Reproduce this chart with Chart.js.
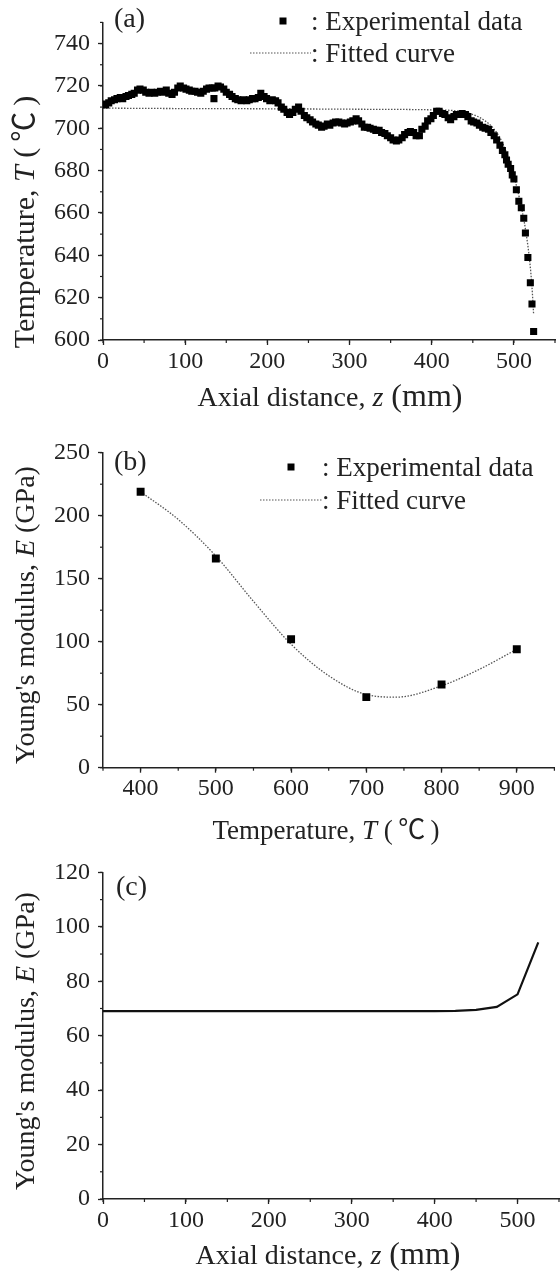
<!DOCTYPE html>
<html lang="en">
<head>
  <meta charset="UTF-8" />
  <title>Temperature and Young's modulus profiles</title>
  <script src="https://cdn.jsdelivr.net/npm/chart.js"></script>
  <style>
    body {
      margin: 0;
      background: #fff;
    }
    .panel {
      position: absolute;
      left: 0;
      width: 560px;
    }
    #pa { top: 0; height: 425px; }
    #pb { top: 425px; height: 425px; }
    #pc { top: 850px; height: 423px; }
  </style>
</head>
<body>

<div class="panel" id="pa"><canvas id="chartA"></canvas></div>
<div class="panel" id="pb"><canvas id="chartB"></canvas></div>
<div class="panel" id="pc"><canvas id="chartC"></canvas></div>

<script>
  // (a) axial temperature profile
  const zExpA = [0,3,7,10,14,17,21,24,28,31,35,38,42,45,49,52,56,59,63,66,70,73,77,80,84,87,91,94,98,101,
    105,108,112,115,119,122,126,129,133,135,136,140,143,147,150,154,157,161,164,168,171,175,178,182,185,189,192,196,199,
    203,206,210,213,217,220,224,227,231,234,238,241,245,248,252,255,259,262,266,269,273,276,280,283,287,290,294,297,
    301,304,308,311,315,318,322,325,329,332,336,339,343,346,350,353,357,360,364,367,371,374,378,381,385,388,392,395,399,
    402,406,409,413,416,420,423,427,430,434,437,441,444,448,451,455,458,462,465,469,472,476,479,483,486,489,491,493,496,498,
    500,503,506,509,512,514,517,520,522,524];
  const tExpA = [711.5,711,712,713,713.5,714,714.5,714,715,715.5,716,716.5,718,718.5,718,717,716.5,717,716.5,717,717.5,717,718,716.5,716,717,719,720,719,718.5,
    718,717.5,717.5,717,716.5,717.5,718.5,719,719,714,719,720,719.5,718.5,717,716,715,714,713.5,713,713.5,713,713.5,714,714,714.5,716.5,715,714,
    713,713.5,713,712,710,709,707.5,706.5,707.5,709,710,708,706,705,704,703,702,701.5,700.5,701,702,701.5,702.5,703,703,702.5,702,702.5,
    703,703.5,704.5,703.5,702,700.5,700.5,700,699.5,699,699,698,697.5,696.5,695.5,694.5,694,694.5,695.5,697,698,698.5,698,696.5,696.5,699.5,701,703.5,704.5,
    706,708,708,707,706.5,705,704,705.5,706.5,706.5,707,706.5,705.5,703.5,703,702.5,701.5,700.5,700,699.5,698,696.5,694.5,692,689.5,687.5,685,683,681,678,
    676,671,665.5,662.5,657.5,650.5,639,627,617,604];
  const zFitA = [0,100,200,300,400,430,450,465,475,485,495,503,510,515,519,522,524];
  const tFitA = [709.5,709.3,709.2,709,708.7,708.2,706.5,703.5,700,694,684,673,661,650,638,625,612];

  // (b) Young's modulus vs temperature
  const tempExpB = [400,500,600,700,800,900];
  const modExpB = [219,166,102,56,66,94];
  const tempFitB = [400,450,500,550,600,650,700,740,800,850,900];
  const modFitB = [219,197,168,132,98,73,58,56,65,78,94];

  // (c) Young's modulus along the axis
  const zC = [0,100,200,300,400,425,450,475,500,525];
  const modC = [69,69,69,69,69,69.1,69.5,70.6,75.2,94.3];

  // tick labels
  const ticksXA = [0,100,200,300,400,500];
  const ticksYA = [600,620,640,660,680,700,720,740];
  const ticksXB = [400,500,600,700,800,900];
  const ticksYB = [0,50,100,150,200,250];
  const ticksXC = [0,100,200,300,400,500];
  const ticksYC = [0,20,40,60,80,100,120];

  const INK = '#222';
  const SERIF = '"Liberation Serif", "Noto Sans CJK SC", serif';
  const CJK = '"Noto Sans CJK SC", "Liberation Serif", serif';

  const pts = (xs, ys) => xs.map((x, i) => ({ x: x, y: ys[i] }));
  const serif = (sz, it) => (it ? 'italic ' : '') + sz + 'px ' + SERIF;

  function axis(min, max, ticks, isX, size) {
    return {
      type: 'linear',
      min: min,
      max: max,
      afterBuildTicks: s => { s.ticks = ticks.map(v => ({ value: v })); },
      afterFit: s => { if (isX) s.height = size; else s.width = size; },
      grid: { drawOnChartArea: false, drawTicks: true, tickLength: 5, tickWidth: 1.3, tickColor: INK },
      border: { display: true, color: INK, width: 1.5 },
      ticks: { color: INK, padding: isX ? 2 : 8, autoSkip: false, maxRotation: 0, font: { family: SERIF, size: 24 } }
    };
  }

  // rich text: list of [text, font]
  function drawRich(ctx, parts, x, y, rot) {
    ctx.save();
    ctx.translate(x, y);
    if (rot) ctx.rotate(-Math.PI / 2);
    let total = 0;
    const w = parts.map(p => { ctx.font = p[1]; const m = ctx.measureText(p[0]).width; total += m; return m; });
    let cx = -total / 2;
    ctx.fillStyle = INK;
    ctx.textBaseline = 'alphabetic';
    parts.forEach((p, i) => { ctx.font = p[1]; ctx.fillText(p[0], cx, 0); cx += w[i]; });
    ctx.restore();
  }

  const tempTitle = sz => [['Temperature, ', serif(sz)], ['T', serif(sz, true)], [' (\u2009', serif(sz)], ['\u2103', sz + 'px ' + CJK], ['\u2009)', serif(sz)]];
  const zTitle = [['Axial distance, ', serif(28)], ['z', serif(28, true)], [' (mm)', serif(32)]];
  const eTitle = [["Young's modulus, ", serif(28)], ['E', serif(28, true)], [' (GPa)', serif(28)]];

  const deco = {
    id: 'deco',
    afterDraw(chart, args, o) {
      const ctx = chart.ctx;
      // minor ticks
      ctx.save();
      ctx.strokeStyle = INK;
      ctx.lineWidth = 1.2;
      Object.keys(o.minor).forEach(id => {
        const s = chart.scales[id];
        const step = o.minor[id];
        for (let v = Math.ceil(s.min / step) * step; v <= s.max + 1e-6; v += step) {
          const p = s.getPixelForValue(v);
          ctx.beginPath();
          if (s.isHorizontal()) { ctx.moveTo(p, s.top); ctx.lineTo(p, s.top + 3); }
          else { ctx.moveTo(s.right, p); ctx.lineTo(s.right - 3, p); }
          ctx.stroke();
        }
      });
      ctx.restore();

      // panel letter
      ctx.save();
      ctx.fillStyle = INK;
      ctx.font = '28px ' + SERIF;
      ctx.textBaseline = 'middle';
      ctx.fillText(o.letter, o.letterX, o.letterY);
      ctx.restore();

      // axis titles
      drawRich(ctx, o.xTitle, o.xTitleX, o.xTitleY, false);
      drawRich(ctx, o.yTitle, o.yTitleX, o.yTitleY, true);

      // legend
      if (o.legend) {
        const L = o.legend;
        ctx.save();
        ctx.fillStyle = '#000';
        ctx.fillRect(L.markX - 3.5, L.row1 - 3.5, 7, 7);
        ctx.strokeStyle = '#555';
        ctx.lineWidth = 1.2;
        ctx.setLineDash([1.5, 1.5]);
        ctx.beginPath();
        ctx.moveTo(L.lineX0, L.row2);
        ctx.lineTo(L.textX, L.row2);
        ctx.stroke();
        ctx.setLineDash([]);
        ctx.fillStyle = INK;
        ctx.font = '27px ' + SERIF;
        ctx.textBaseline = 'middle';
        ctx.fillText(': Experimental data', L.textX, L.row1 + 2);
        ctx.fillText(': Fitted curve', L.textX, L.row2 + 2);
        ctx.restore();
      }
    }
  };

  const expStyle = r => ({
    showLine: false,
    pointStyle: 'rect',
    pointRadius: r,
    pointBackgroundColor: '#000',
    pointBorderColor: '#000',
    pointBorderWidth: 0
  });
  const fitStyle = {
    showLine: true,
    borderColor: '#555',
    borderWidth: 1.3,
    borderDash: [1.5, 1.5],
    pointRadius: 0,
    cubicInterpolationMode: 'monotone',
    fill: false
  };

  const base = (pad, xs, ys, decoOpts, datasets) => ({
    type: 'scatter',
    data: { datasets: datasets },
    options: {
      responsive: true,
      maintainAspectRatio: false,
      animation: false,
      layout: { padding: pad },
      scales: { x: xs, y: ys },
      plugins: { legend: { display: false }, tooltip: { enabled: false }, deco: decoOpts }
    },
    plugins: [deco]
  });

  new Chart(document.getElementById('chartA'), base(
    { left: 0, right: 2, top: 12.5, bottom: 0 },
    axis(0, 550, ticksXA, true, 85),
    axis(600, 750, ticksYA, false, 103),
    {
      minor: { x: 50, y: 10 },
      letter: '(a)', letterX: 114, letterY: 20,
      xTitle: zTitle, xTitleX: 330, xTitleY: 406,
      yTitle: tempTitle(30), yTitleX: 34, yTitleY: 222,
      legend: { markX: 283, row1: 21, lineX0: 250, textX: 311, row2: 53 }
    },
    [
      Object.assign({ data: pts(zExpA, tExpA) }, expStyle(5)),
      Object.assign({ data: pts(zFitA, tFitA) }, fitStyle)
    ]
  ));

  new Chart(document.getElementById('chartB'), base(
    { left: 0, right: 2, top: 27.7, bottom: 0 },
    axis(350, 950, ticksXB, true, 82.3),
    axis(0, 250, ticksYB, false, 103),
    {
      minor: { x: 50, y: 25 },
      letter: '(b)', letterX: 114, letterY: 38,
      xTitle: tempTitle(27), xTitleX: 326, xTitleY: 414,
      yTitle: eTitle, yTitleX: 34, yTitleY: 190,
      legend: { markX: 291, row1: 42, lineX0: 260, textX: 322, row2: 75 }
    },
    [
      Object.assign({ data: pts(tempExpB, modExpB) }, expStyle(5.6)),
      Object.assign({ data: pts(tempFitB, modFitB) }, fitStyle)
    ]
  ));

  new Chart(document.getElementById('chartC'), base(
    { left: 0, right: 1, top: 21.7, bottom: 0 },
    axis(0, 550, ticksXC, true, 74),
    axis(0, 120, ticksYC, false, 103),
    {
      minor: { x: 50, y: 10 },
      letter: '(c)', letterX: 116, letterY: 38,
      xTitle: zTitle, xTitleX: 328, xTitleY: 414,
      yTitle: eTitle, yTitleX: 34, yTitleY: 191
    },
    [
      {
        data: pts(zC, modC),
        showLine: true,
        borderColor: '#111',
        borderWidth: 2.2,
        pointRadius: 0,
        tension: 0,
        fill: false
      }
    ]
  ));
</script>

</body>
</html>
